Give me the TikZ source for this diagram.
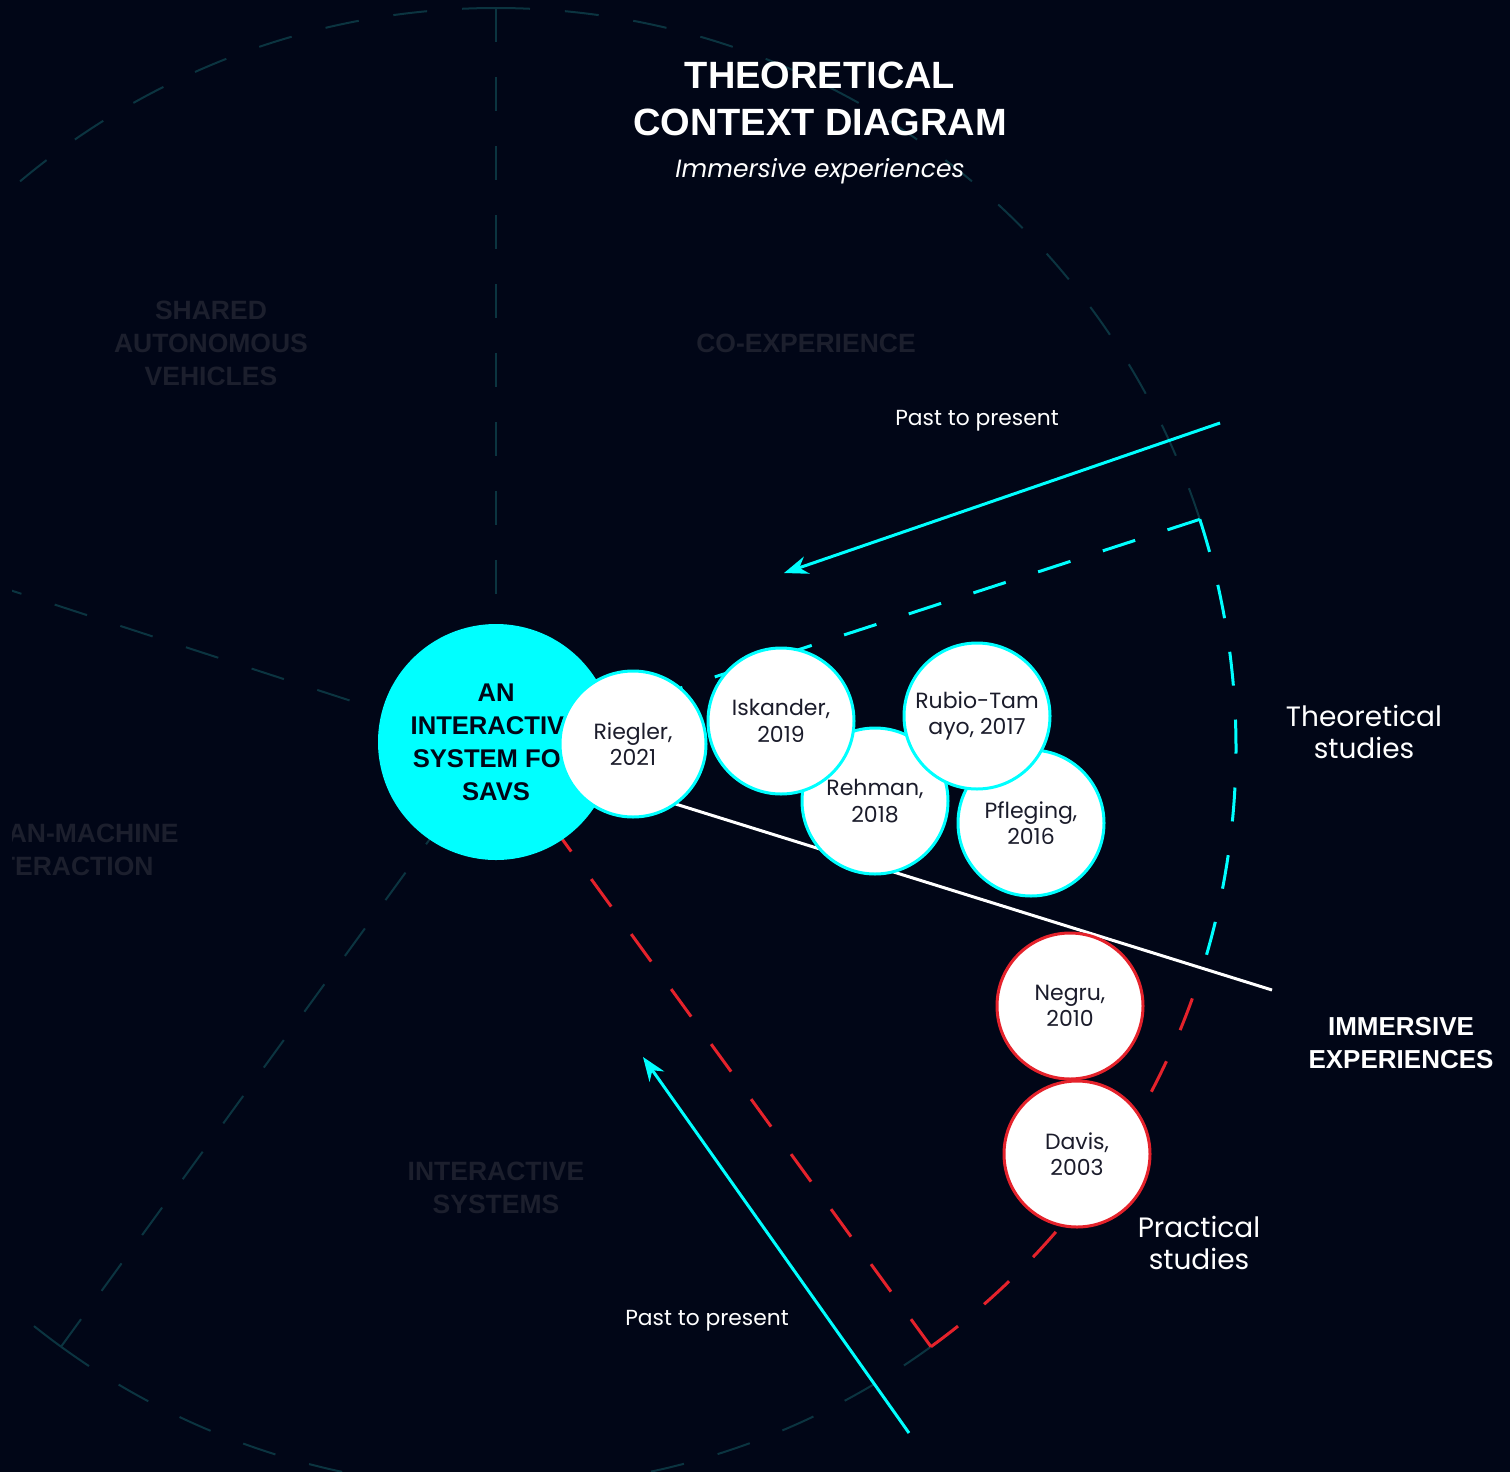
\documentclass[tikz,border=0pt]{standalone}
\usepackage{fontspec}
\setmainfont{Poppins}
\newfontfamily\headfont{Liberation Sans}
\usetikzlibrary{arrows.meta, positioning, calc}
\definecolor{inknight}{HTML}{010617}
\definecolor{inkfaint}{HTML}{0B3440}
\definecolor{inkghost}{HTML}{1C1F2D}
\definecolor{inkcyan}{HTML}{00FFFF}
\definecolor{inkred}{HTML}{E5222B}
\definecolor{inktext}{HTML}{1B1C2B}
\newcommand{\refdot}[4]{%
  \node[circle, draw=#3, line width=1.5pt, fill=white, minimum size=73pt,
        inner sep=0pt, align=center, text=inktext,
        font=\fontsize{11}{13.25}\selectfont] (#1) at (#2) {#4};}

\begin{document}
\begin{tikzpicture}[x=0.5pt, y=-0.5pt,
    faintline/.style={draw=inkfaint, line width=1pt, dash pattern=on 17pt off 17.5pt},
    studyline/.style={line width=1.5pt, dash pattern=on 17pt off 17pt},
    ghost/.style={text=inkghost, align=center, inner sep=0pt,
      font=\headfont\bfseries\fontsize{13.25}{16.5}\selectfont},
    sidenote/.style={text=white, align=center, inner sep=0pt,
      font=\fontsize{14}{16}\selectfont},
    timearrow/.style={-{Stealth[length=12pt, width=9pt]}, inkcyan, line width=1.5pt}]
  \useasboundingbox (0,0) rectangle (1510,1472);
  \fill[inknight] (0,0) rectangle (1510,1472);
  \coordinate (O) at (496,748);

  % context sectors, faint
  \begin{scope}
    \clip (12,0) rectangle (1510,1472);
    \foreach \a in {126,198,270}
      \draw[faintline] (O) ++(\a:740) -- (O);
    \draw[faintline] (O) ++(270:740) arc[start angle=270, end angle=342, radius=740];
    \draw[faintline] (O) ++(270:740) arc[start angle=270, end angle=198, radius=740];
    \draw[faintline] (O) ++(126:740) arc[start angle=126, end angle=198, radius=740];
    \draw[faintline] (O) ++(126:740) arc[start angle=126, end angle=54, radius=740];
    \node[ghost] (sav) at (211,343) {SHARED\\AUTONOMOUS\\VEHICLES};
    \node[ghost] (coexp) at (806,343) {CO-EXPERIENCE};
    \node[ghost] (hmi) at (63,850) {HUMAN-MACHINE\\INTERACTION};
    \node[ghost] (isys) at (496,1188) {INTERACTIVE\\SYSTEMS};
  \end{scope}

  % immersive sector
  \coordinate (theorycorner) at ($(O)+(-18:740)$);
  \coordinate (practicecorner) at ($(O)+(54:740)$);
  \draw[studyline, inkcyan] (theorycorner) -- (O);
  \draw[studyline, inkcyan] (theorycorner) arc[start angle=-18, end angle=18, radius=740];
  \draw[studyline, inkred] (practicecorner) -- (O);
  \draw[studyline, inkred] (practicecorner) arc[start angle=54, end angle=18, radius=740];
  \coordinate (splitend) at (1272,990);
  \draw[white, line width=1.5pt] (O) -- (splitend);

  \node[text=white, align=center, inner sep=0pt,
        font=\headfont\bfseries\fontsize{19}{23.5}\selectfont] (title) at (820,99)
        {THEORETICAL\\CONTEXT DIAGRAM};
  \node[text=white, inner sep=0pt, font=\itshape\fontsize{12.5}{15}\selectfont]
        (subtitle) at (820,171) {Immersive experiences};

  \node[circle, fill=inkcyan, minimum size=118pt, inner sep=0pt, align=center,
        text=inknight, font=\headfont\bfseries\fontsize{12.8}{16.5}\selectfont]
        (core) at (496,742) {AN\\INTERACTIVE\\SYSTEM FOR\\SAVS};
  \refdot{riegler}{633,744}{inkcyan}{Riegler,\\2021}
  \refdot{negru}{1070,1006}{inkred}{Negru,\\2010}
  \refdot{davis}{1077,1154}{inkred}{Davis,\\2003}
  \refdot{pfleging}{1031,823}{inkcyan}{Pfleging,\\2016}
  \refdot{rehman}{875,801}{inkcyan}{Rehman,\\2018}
  \refdot{iskander}{781,721}{inkcyan}{Iskander,\\2019}
  \refdot{rubio}{977,716}{inkcyan}{Rubio-Tam\\ayo, 2017}

  \coordinate (pastT) at (1220,423);
  \coordinate (nowT) at (784,573);
  \draw[timearrow] (pastT) -- (nowT);
  \node[sidenote, font=\fontsize{10.9}{13}\selectfont] (pastTnote) at (977,421) {Past to present};
  \coordinate (pastB) at (909,1433);
  \coordinate (nowB) at (643,1057);
  \draw[timearrow] (pastB) -- (nowB);
  \node[sidenote, font=\fontsize{10.9}{13}\selectfont] (pastBnote) at (707,1321) {Past to present};

  \node[sidenote] (theory) at (1364,732) {Theoretical\\studies};
  \node[sidenote] (practice) at (1199,1243) {Practical\\studies};
  \node[text=white, align=center, inner sep=0pt,
        font=\headfont\bfseries\fontsize{13}{16.5}\selectfont] (immersive) at (1401,1043)
        {IMMERSIVE\\EXPERIENCES};
\end{tikzpicture}
\end{document}
